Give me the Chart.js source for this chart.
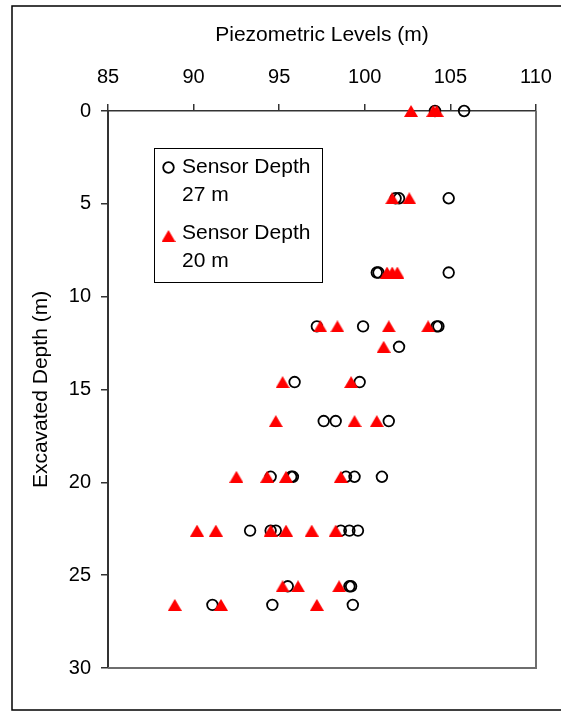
<!DOCTYPE html>
<html>
<head>
<meta charset="utf-8">
<script src="https://cdn.jsdelivr.net/npm/chart.js@4.4.0/dist/chart.umd.min.js"></script>
<style>
  html, body { margin: 0; padding: 0; background: #fff; }
  #wrap { width: 561px; height: 711px; }
</style>
</head>
<body>
<div id="wrap"><canvas id="chart" width="561" height="711"></canvas></div>
<script>
// tick labels
const xTicks = [85, 90, 95, 100, 105, 110];
const yTicks = [0, 5, 10, 15, 20, 25, 30];

// sensor at 27 m (open circles)
const depth27 = [0, 0,
  4.7, 4.7, 4.7,
  8.7, 8.7, 8.7,
  11.6, 11.6, 11.6, 11.6,
  12.7,
  14.6, 14.6,
  16.7, 16.7, 16.7,
  19.7, 19.7, 19.7, 19.7, 19.7, 19.7,
  22.6, 22.6, 22.6, 22.6, 22.6, 22.6,
  25.6, 25.6, 25.6,
  26.6, 26.6, 26.6];
const level27 = [104.1, 105.8,
  101.8, 102.0, 104.9,
  100.7, 100.8, 104.9,
  97.2, 99.9, 104.2, 104.3,
  102.0,
  95.9, 99.7,
  97.6, 98.3, 101.4,
  94.5, 95.7, 95.8, 98.9, 99.4, 101.0,
  93.3, 94.5, 94.8, 98.6, 99.1, 99.6,
  95.5, 99.1, 99.2,
  91.1, 94.6, 99.3];

// sensor at 20 m (red triangles)
const depth20 = [0, 0, 0,
  4.7, 4.7,
  8.7, 8.7, 8.7,
  11.6, 11.6, 11.6, 11.6,
  12.7,
  14.6, 14.6,
  16.7, 16.7, 16.7,
  19.7, 19.7, 19.7, 19.7,
  22.6, 22.6, 22.6, 22.6, 22.6, 22.6,
  25.6, 25.6, 25.6,
  26.6, 26.6, 26.6];
const level20 = [102.7, 104.0, 104.2,
  101.6, 102.6,
  101.3, 101.6, 101.9,
  97.4, 98.4, 101.4, 103.7,
  101.1,
  95.2, 99.2,
  94.8, 99.4, 100.7,
  92.5, 94.3, 95.4, 98.6,
  90.2, 91.3, 94.5, 95.4, 96.9, 98.3,
  95.2, 96.1, 98.5,
  88.9, 91.6, 97.2];

const seriesNames = [["Sensor Depth", "27 m"], ["Sensor Depth", "20 m"]];

const FONT = "'Liberation Sans', Arial, Helvetica, sans-serif";

// triangle marker centred on its bounding box
function makeTriangle(w, h, color) {
  const c = document.createElement("canvas");
  c.width = w;
  c.height = h;
  const g = c.getContext("2d");
  g.fillStyle = color;
  g.beginPath();
  g.moveTo(w / 2, 0);
  g.lineTo(w, h);
  g.lineTo(0, h);
  g.closePath();
  g.fill();
  return c;
}
const triangle = makeTriangle(14, 12, "#ff0000");

const framePlugin = {
  id: "frame",
  beforeDraw(chart) {
    const ctx = chart.ctx;
    ctx.save();
    ctx.fillStyle = "#fff";
    ctx.fillRect(0, 0, chart.width, chart.height);
    ctx.strokeStyle = "#000";
    ctx.lineWidth = 1.5;
    ctx.strokeRect(12, 6, 600, 704);
    ctx.restore();
  },
  afterDraw(chart) {
    const ctx = chart.ctx;
    const a = chart.chartArea;
    ctx.save();
    // right and bottom edge of plot area
    ctx.strokeStyle = "#6e6e6e";
    ctx.lineWidth = 2;
    ctx.beginPath();
    ctx.moveTo(a.right, a.top);
    ctx.lineTo(a.right, a.bottom);
    ctx.lineTo(a.left, a.bottom);
    ctx.stroke();

    // legend box
    ctx.fillStyle = "#fff";
    ctx.fillRect(154.5, 148.5, 168, 134);
    ctx.strokeStyle = "#000";
    ctx.lineWidth = 1;
    ctx.strokeRect(154.5, 148.5, 168, 134);

    ctx.lineWidth = 1.8;
    ctx.beginPath();
    ctx.arc(168.5, 167.5, 5.3, 0, Math.PI * 2);
    ctx.stroke();
    ctx.drawImage(triangle, 168.5 - 7, 236 - 6);

    ctx.fillStyle = "#000";
    ctx.font = "21px " + FONT;
    ctx.textBaseline = "middle";
    ctx.textAlign = "left";
    ctx.fillText(seriesNames[0][0], 182, 167);
    ctx.fillText(seriesNames[0][1], 182, 195);
    ctx.fillText(seriesNames[1][0], 182, 233);
    ctx.fillText(seriesNames[1][1], 182, 261);
    ctx.restore();
  },
};

new Chart(document.getElementById("chart"), {
  type: "scatter",
  data: {
    datasets: [
      {
        label: seriesNames[0].join(" "),
        data: level27.map((v, i) => ({ x: v, y: depth27[i] })),
        pointStyle: "circle",
        pointRadius: 5.3,
        borderWidth: 1.8,
        borderColor: "#000",
        backgroundColor: "rgba(0,0,0,0)",
        clip: false,
        order: 2,
      },
      {
        label: seriesNames[1].join(" "),
        data: level20.map((v, i) => ({ x: v, y: depth20[i] })),
        pointStyle: triangle,
        pointRadius: 7,
        clip: false,
        order: 1,
      },
    ],
  },
  options: {
    responsive: false,
    animation: false,
    events: [],
    layout: { padding: { left: 0, top: 0, right: 25, bottom: 43 } },
    plugins: {
      legend: { display: false },
      tooltip: { enabled: false },
    },
    scales: {
      x: {
        type: "linear",
        position: "top",
        min: xTicks[0],
        max: xTicks[xTicks.length - 1],
        afterBuildTicks: (s) => { s.ticks = xTicks.map((v) => ({ value: v })); },
        afterFit: (s) => { s.height = 111; s.paddingLeft = 0; s.paddingRight = 0; },
        grid: { drawOnChartArea: false, tickLength: 7, color: "#333", lineWidth: 1.5 },
        border: { color: "#333", width: 1.5 },
        ticks: { color: "#000", font: { family: FONT, size: 20 }, padding: 15 },
        title: {
          display: true,
          text: "Piezometric Levels (m)",
          color: "#000",
          font: { family: FONT, size: 21 },
          padding: { top: 23, bottom: 0 },
        },
      },
      y: {
        type: "linear",
        reverse: true,
        min: yTicks[0],
        max: yTicks[yTicks.length - 1],
        afterBuildTicks: (s) => { s.ticks = yTicks.map((v) => ({ value: v })); },
        afterFit: (s) => { s.width = 108; s.paddingTop = 0; s.paddingBottom = 0; },
        grid: { drawOnChartArea: false, tickLength: 7, color: "#333", lineWidth: 1.5 },
        border: { color: "#333", width: 2 },
        ticks: { color: "#000", font: { family: FONT, size: 20 }, padding: 10 },
        title: {
          display: true,
          text: "Excavated Depth (m)",
          color: "#000",
          font: { family: FONT, size: 21 },
          padding: { top: 29, bottom: 0 },
        },
      },
    },
  },
  plugins: [framePlugin],
});
</script>
</body>
</html>
